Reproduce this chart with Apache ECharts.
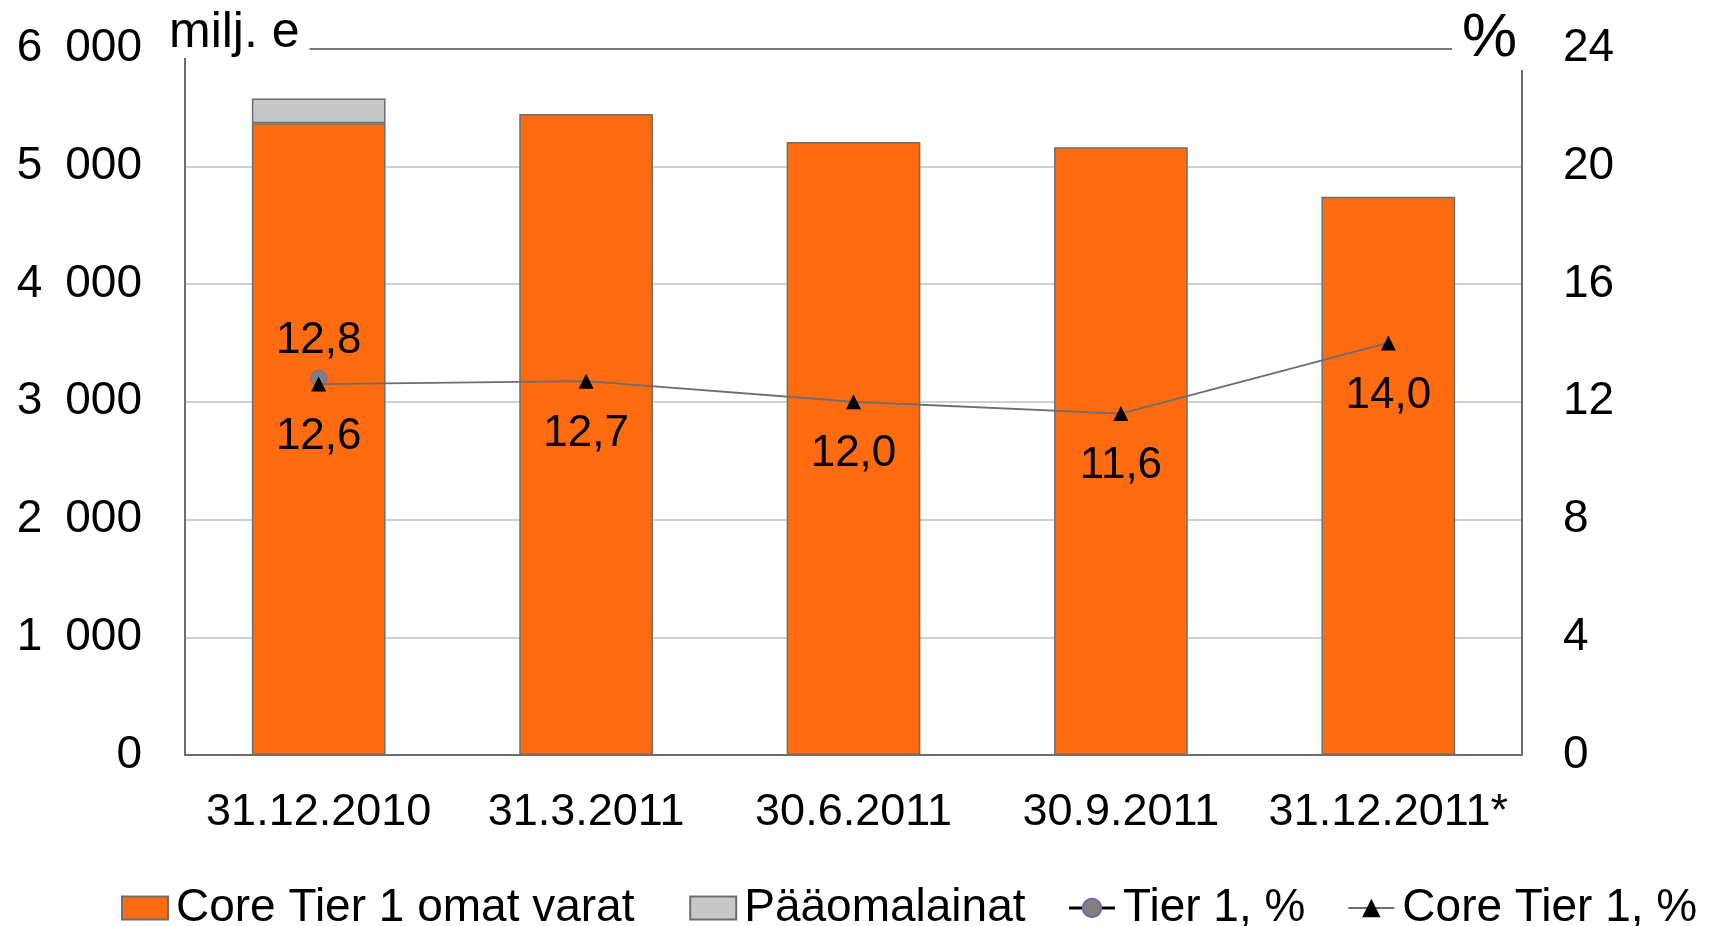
<!DOCTYPE html>
<html>
<head>
<meta charset="utf-8">
<script src="https://cdn.jsdelivr.net/npm/echarts@6/dist/echarts.min.js"></script>
<style>
html,body{margin:0;padding:0;background:#fff;}
#chart{width:1713px;height:926px;}
</style>
</head>
<body>
<div id="chart"></div>
<script>
const categories = ['31.12.2010', '31.3.2011', '30.6.2011', '30.9.2011', '31.12.2011*'];
const coreCapital = [5365, 5443, 5206, 5161, 4741];
const hybridLoans = [210, null, null, null, null];
const tier1 = [12.8, null, null, null, null];
const coreTier1 = [12.6, 12.7, 12.0, 11.6, 14.0];
const leftTicks = { min: 0, max: 6000, interval: 1000 };
const rightTicks = { min: 0, max: 24, interval: 4 };

const FONT = '"Liberation Sans", Arial, sans-serif';
const fmtComma = v => v.toFixed(1).replace('.', ',');
const fmtThousands = v => String(v).replace(/\B(?=(\d{3})+(?!\d))/g, '\u2002');

const chart = echarts.init(document.getElementById('chart'));
chart.setOption({
  animation: false,
  backgroundColor: '#fff',
  textStyle: { fontFamily: FONT, color: '#000' },
  title: [
    {
      text: 'milj. e', left: 160, top: 0, padding: [8, 10, 0, 9],
      backgroundColor: '#fff',
      textStyle: { fontFamily: FONT, fontSize: 50, lineHeight: 50, fontWeight: 'normal', color: '#000' }
    },
    {
      text: '%', left: 1452, top: 0, padding: [8, 10, 0, 10],
      backgroundColor: '#fff',
      textStyle: { fontFamily: FONT, fontSize: 62, lineHeight: 62, fontWeight: 'normal', color: '#000' }
    }
  ],
  grid: { left: 185, right: 191, top: 48.5, bottom: 171, containLabel: false },
  legend: {
    left: 116, top: 880,
    itemWidth: 46, itemHeight: 23, itemGap: 42,
    textStyle: { fontFamily: FONT, fontSize: 46, color: '#000', padding: [0, 0, 0, 3] },
    formatter: name => name === 'Core Tier 1 omat varat' ? name + ' ' : name,
    data: [
      { name: 'Core Tier 1 omat varat', icon: 'rect' },
      { name: 'Pääomalainat', icon: 'rect' },
      { name: 'Tier 1, %', lineStyle: { color: '#000', width: 3 } },
      { name: 'Core Tier 1, %', lineStyle: { color: '#6d6d6d', width: 2 } }
    ]
  },
  xAxis: {
    type: 'category', data: categories,
    axisLine: { show: true, lineStyle: { color: '#6d6d6d', width: 2 } },
    axisTick: { show: false },
    axisLabel: { fontFamily: FONT, fontSize: 45, color: '#000', margin: 35, interval: 0 },
    splitLine: { show: false }
  },
  yAxis: [
    {
      type: 'value', min: leftTicks.min, max: leftTicks.max, interval: leftTicks.interval,
      axisLine: { show: true, lineStyle: { color: '#6d6d6d', width: 2 } },
      axisTick: { show: false },
      axisLabel: { fontFamily: FONT, fontSize: 46, color: '#000', margin: 43, padding: [6, 0, 0, 0], formatter: fmtThousands },
      splitLine: { show: true, lineStyle: { width: 2, color: ['#d0d0d0', '#d0d0d0', '#d0d0d0', '#d0d0d0', '#d0d0d0', '#d0d0d0', '#777777'] } }
    },
    {
      type: 'value', min: rightTicks.min, max: rightTicks.max, interval: rightTicks.interval,
      position: 'right',
      axisLine: { show: true, lineStyle: { color: '#6d6d6d', width: 2 } },
      axisTick: { show: false },
      axisLabel: { fontFamily: FONT, fontSize: 46, color: '#000', margin: 41, padding: [6, 0, 0, 0] },
      splitLine: { show: false }
    }
  ],
  series: [
    {
      name: 'Core Tier 1 omat varat', type: 'bar', stack: 'cap', data: coreCapital,
      barWidth: '50%',
      itemStyle: { color: '#ff6b11', borderColor: '#6d6d6d', borderWidth: 1.5 }
    },
    {
      name: 'Pääomalainat', type: 'bar', stack: 'cap', data: hybridLoans,
      barWidth: '50%',
      itemStyle: { color: '#c8c8c8', borderColor: '#6d6d6d', borderWidth: 1.5 }
    },
    {
      name: 'Tier 1, %', type: 'line', yAxisIndex: 1, data: tier1,
      symbol: 'circle', symbolSize: 16, showAllSymbol: true,
      lineStyle: { color: '#000', width: 3 },
      itemStyle: { color: '#808080', borderColor: '#7f60a8', borderWidth: 1 },
      label: { show: true, position: 'top', distance: 7, fontFamily: FONT, fontSize: 44, color: '#000', formatter: p => fmtComma(p.value) },
      z: 3
    },
    {
      name: 'Core Tier 1, %', type: 'line', yAxisIndex: 1, data: coreTier1,
      symbol: 'triangle', symbolSize: [15, 15], showAllSymbol: true,
      lineStyle: { color: '#6d6d6d', width: 1.8 },
      itemStyle: { color: '#000' },
      label: { show: true, position: 'bottom', distance: 23, fontFamily: FONT, fontSize: 44, color: '#000', formatter: p => fmtComma(p.value) },
      z: 4
    }
  ]
});
</script>
</body>
</html>
